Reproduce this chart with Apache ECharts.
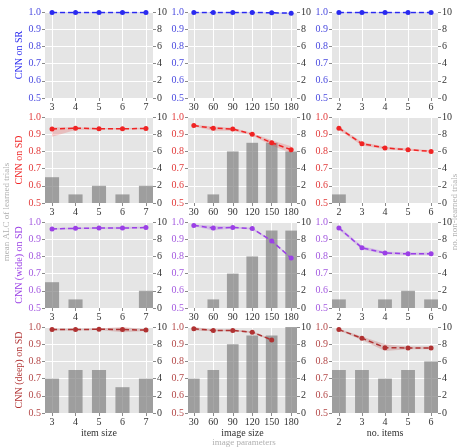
<!DOCTYPE html>
<html><head><meta charset="utf-8">
<script src="https://cdn.jsdelivr.net/npm/echarts@6/dist/echarts.min.js"></script>
<style>html,body{margin:0;padding:0;background:#fff}#c{width:461px;height:447px}</style>
</head><body><div id="c"></div>
<script>
// ---------- data ----------
const rowNames = ['CNN on SR', 'CNN on SD', 'CNN (wide) on SD', 'CNN (deep) on SD'];
const colNames = ['item size', 'image size', 'no. items'];
const xItemSize = [3, 4, 5, 6, 7];
const xImageSize = [30, 60, 90, 120, 150, 180];
const xNoItems = [2, 3, 4, 5, 6];

// CNN on SR
const srItemVal = [0.997, 0.997, 0.997, 0.997, 0.997];
const srItemLo = [0.994, 0.994, 0.994, 0.994, 0.994];
const srItemHi = [1.000, 1.000, 1.000, 1.000, 1.000];
const srItemBars = [0, 0, 0, 0, 0];
const srImageVal = [0.997, 0.997, 0.997, 0.997, 0.996, 0.993];
const srImageLo = [0.994, 0.994, 0.994, 0.994, 0.993, 0.990];
const srImageHi = [1.000, 1.000, 1.000, 1.000, 0.999, 0.996];
const srImageBars = [0, 0, 0, 0, 0, 0];
const srItemsVal = [0.997, 0.997, 0.997, 0.997, 0.997];
const srItemsLo = [0.994, 0.994, 0.994, 0.994, 0.994];
const srItemsHi = [1.000, 1.000, 1.000, 1.000, 1.000];
const srItemsBars = [0, 0, 0, 0, 0];

// CNN on SD
const sdItemVal = [0.930, 0.935, 0.932, 0.932, 0.933];
const sdItemLo = [0.885, 0.925, 0.928, 0.928, 0.929];
const sdItemHi = [0.940, 0.940, 0.936, 0.936, 0.937];
const sdItemBars = [3, 1, 2, 1, 2];
const sdImageVal = [0.950, 0.935, 0.930, 0.900, 0.850, 0.810];
const sdImageLo = [0.945, 0.920, 0.920, 0.893, 0.835, 0.790];
const sdImageHi = [0.955, 0.945, 0.937, 0.907, 0.865, 0.830];
const sdImageBars = [0, 1, 6, 7, 7, 6];
const sdItemsVal = [0.935, 0.845, 0.820, 0.810, 0.800];
const sdItemsLo = [0.925, 0.835, 0.813, 0.803, 0.793];
const sdItemsHi = [0.945, 0.855, 0.827, 0.817, 0.807];
const sdItemsBars = [1, 0, 0, 0, 0];

// CNN (wide) on SD
const wdItemVal = [0.960, 0.963, 0.965, 0.965, 0.968];
const wdItemLo = [0.955, 0.958, 0.960, 0.958, 0.963];
const wdItemHi = [0.965, 0.968, 0.970, 0.972, 0.973];
const wdItemBars = [3, 1, 0, 0, 2];
const wdImageVal = [0.980, 0.965, 0.968, 0.962, 0.890, 0.790];
const wdImageLo = [0.975, 0.950, 0.962, 0.957, 0.885, 0.785];
const wdImageHi = [0.985, 0.978, 0.974, 0.967, 0.895, 0.795];
const wdImageBars = [0, 1, 4, 6, 9, 9];
const wdItemsVal = [0.965, 0.850, 0.820, 0.815, 0.815];
const wdItemsLo = [0.955, 0.840, 0.812, 0.808, 0.808];
const wdItemsHi = [0.975, 0.860, 0.828, 0.822, 0.822];
const wdItemsBars = [1, 0, 1, 2, 1];

// CNN (deep) on SD
const dpItemVal = [0.985, 0.985, 0.987, 0.985, 0.982];
const dpItemLo = [0.980, 0.980, 0.982, 0.970, 0.977];
const dpItemHi = [0.990, 0.990, 0.992, 1.000, 0.987];
const dpItemBars = [4, 5, 5, 3, 4];
const dpImageVal = [0.990, 0.980, 0.980, 0.970, 0.925, null];
const dpImageLo = [0.980, 0.975, 0.975, 0.965, 0.920, null];
const dpImageHi = [1.000, 0.985, 0.985, 0.975, 0.930, null];
const dpImageBars = [4, 5, 8, 9, 9, 10];
const dpItemsVal = [0.985, 0.935, 0.880, 0.878, 0.878];
const dpItemsLo = [0.980, 0.925, 0.860, 0.870, 0.870];
const dpItemsHi = [0.990, 0.945, 0.900, 0.886, 0.886];
const dpItemsBars = [5, 5, 4, 5, 6];

// ---------- layout / style ----------
const xs = [xItemSize, xImageSize, xNoItems];
const panels = [
  [[srItemVal, srItemLo, srItemHi, srItemBars], [srImageVal, srImageLo, srImageHi, srImageBars], [srItemsVal, srItemsLo, srItemsHi, srItemsBars]],
  [[sdItemVal, sdItemLo, sdItemHi, sdItemBars], [sdImageVal, sdImageLo, sdImageHi, sdImageBars], [sdItemsVal, sdItemsLo, sdItemsHi, sdItemsBars]],
  [[wdItemVal, wdItemLo, wdItemHi, wdItemBars], [wdImageVal, wdImageLo, wdImageHi, wdImageBars], [wdItemsVal, wdItemsLo, wdItemsHi, wdItemsBars]],
  [[dpItemVal, dpItemLo, dpItemHi, dpItemBars], [dpImageVal, dpImageLo, dpImageHi, dpImageBars], [dpItemsVal, dpItemsLo, dpItemsHi, dpItemsBars]]
];
const lineColors = ['#2a2af0', '#f02424', '#9b40e6', '#b03232'];
const labelColors = ['#4a4ae0', '#e23a3a', '#a45ae0', '#b44848'];
const bandColors = ['rgba(42,42,240,0.2)', 'rgba(240,36,36,0.2)', 'rgba(155,64,230,0.22)', 'rgba(176,50,50,0.22)'];
const colLeft = [45, 188, 332];
const colWidth = [108, 109, 106];
const rowTop = [12, 117, 222, 327];
const rowHeight = 86;
const FONT = '"Liberation Serif", "DejaVu Serif", serif';

function makeBandRenderer(xv, lo, hi, color) {
  return function (params, api) {
    const upper = [], lower = [];
    for (let i = 0; i < xv.length; i++) {
      if (lo[i] == null || hi[i] == null) continue;
      upper.push(api.coord([xv[i], hi[i]]));
      lower.push(api.coord([xv[i], lo[i]]));
    }
    const pts = upper.concat(lower.reverse());
    return {type: 'polygon', shape: {points: pts}, style: {fill: color, stroke: null},
      clipPath: {type: 'rect', shape: params.coordSys}};
  };
}

const grids = [], xAxes = [], yAxes = [], series = [];
let gi = 0;
for (let r = 0; r < 4; r++) {
  for (let c = 0; c < 3; c++) {
    const xv = xs[c];
    const step = xv[1] - xv[0];
    const xmin = xv[0] - 0.3 * step, xmax = xv[xv.length - 1] + 0.3 * step;
    grids.push({left: colLeft[c], top: rowTop[r], width: colWidth[c], height: rowHeight,
      show: true, backgroundColor: '#e5e5e5', borderWidth: 0, containLabel: false});
    xAxes.push({type: 'value', gridIndex: gi, min: xmin, max: xmax,
      axisLine: {show: false},
      axisTick: {show: true, length: 3, lineStyle: {color: '#8a8a8a'}, customValues: xv},
      axisLabel: {fontFamily: FONT, fontSize: 10, color: '#333', margin: 4, customValues: xv},
      splitLine: {show: true, lineStyle: {color: '#ffffff', width: 1}},
      name: r === 3 ? colNames[c] : '', nameLocation: 'middle', nameGap: 14,
      nameTextStyle: {fontFamily: FONT, fontSize: 10, color: '#333'}});
    yAxes.push({type: 'value', gridIndex: gi, position: 'left', min: 0.5, max: 1.0, interval: 0.1,
      axisLine: {show: false},
      axisTick: {show: true, length: 3, lineStyle: {color: '#8a8a8a'}},
      axisLabel: {fontFamily: FONT, fontSize: 10, color: labelColors[r], margin: 4,
        formatter: v => v.toFixed(1)},
      splitLine: {show: true, lineStyle: {color: '#ffffff', width: 1}},
      name: c === 0 ? rowNames[r] : '', nameLocation: 'middle', nameGap: 21, nameRotate: 90,
      nameTextStyle: {fontFamily: FONT, fontSize: 10, color: lineColors[r]}});
    yAxes.push({type: 'value', gridIndex: gi, position: 'right', min: 0, max: 10, interval: 2,
      axisLine: {show: false},
      axisTick: {show: true, length: 3, lineStyle: {color: '#8a8a8a'}},
      axisLabel: {fontFamily: FONT, fontSize: 10, color: '#333', margin: 4},
      splitLine: {show: false}});
    const [val, lo, hi, bars] = panels[r][c];
    const bw = colWidth[c] / (xmax - xmin) * 0.6 * step;
    const yl = gi * 2, yr = gi * 2 + 1;
    series.push({type: 'bar', xAxisIndex: gi, yAxisIndex: yr, barWidth: bw, z: 2,
      itemStyle: {color: 'rgba(128,128,128,0.7)'}, silent: true, animation: false,
      data: xv.map((x, i) => [x, bars[i]])});
    series.push({type: 'custom', xAxisIndex: gi, yAxisIndex: yl, z: 3, silent: true, animation: false,
      renderItem: makeBandRenderer(xv, lo, hi, bandColors[r]),
      data: [[xv[0], val[0]]]});
    series.push({type: 'line', xAxisIndex: gi, yAxisIndex: yl, z: 4,
      symbol: 'circle', symbolSize: 5, itemStyle: {color: lineColors[r]},
      lineStyle: {color: lineColors[r], width: 1.5, type: [5, 3]},
      animation: false, silent: true,
      data: xv.map((x, i) => [x, val[i]])});
    gi++;
  }
}

const chart = echarts.init(document.getElementById('c'), null, {renderer: 'canvas'});
chart.setOption({
  animation: false,
  grid: grids, xAxis: xAxes, yAxis: yAxes, series: series,
  graphic: [
    {type: 'text', x: 7, y: 212, rotation: Math.PI / 2,
      style: {text: 'mean ALC of learned trials', fontFamily: FONT, fontSize: 9, fill: '#b0b0b0',
        align: 'center', verticalAlign: 'middle'}},
    {type: 'text', x: 455, y: 212, rotation: Math.PI / 2,
      style: {text: 'no. non-learned trials', fontFamily: FONT, fontSize: 9, fill: '#b0b0b0',
        align: 'center', verticalAlign: 'middle'}},
    {type: 'text', x: 244, y: 443,
      style: {text: 'image parameters', fontFamily: FONT, fontSize: 9, fill: '#b0b0b0',
        align: 'center', verticalAlign: 'middle'}}
  ]
});
</script>
</body></html>
